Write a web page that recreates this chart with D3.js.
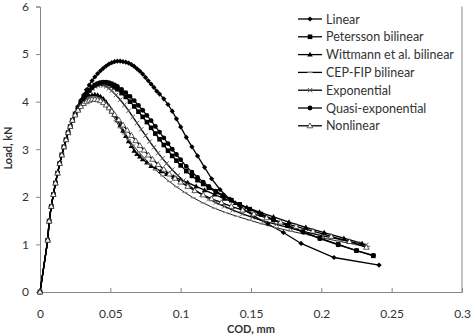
<!DOCTYPE html>
<html>
<head>
<meta charset="utf-8">
<script src="https://cdn.jsdelivr.net/npm/d3@7"></script>
<style>
  body { margin: 0; background: #fff; }
  svg text { font-family: Lato, "Open Sans", sans-serif; fill: #333; }
</style>
</head>
<body>
<div id="chart"></div>
<script>
// shared ascending branch
const riseX = [0, 0.0055, 0.0065, 0.008, 0.0095, 0.011, 0.0125, 0.014, 0.0155, 0.017, 0.0185, 0.02, 0.0215, 0.023];
const riseY = [0, 1.09, 1.49, 1.80, 2.05, 2.29, 2.50, 2.70, 2.88, 3.05, 3.20, 3.35, 3.48, 3.61];

const linearX = [0.025,0.027,0.029,0.031,0.033,0.035,0.037,0.039,0.041,0.043,0.045,0.047,0.049,0.051,0.053,0.055,0.057,0.059,0.061,0.063,0.065,0.067,0.069,0.071,0.073,0.075,0.077,0.079,0.081,0.083,0.085,0.088,0.091,0.094,0.097,0.1,0.104,0.108,0.112,0.117,0.122,0.128,0.135,0.143,0.152,0.162,0.173,0.1856,0.209,0.241];
const linearY = [3.76,3.9,4.03,4.14,4.25,4.35,4.44,4.52,4.59,4.65,4.7,4.75,4.79,4.82,4.84,4.85,4.85,4.84,4.83,4.81,4.78,4.74,4.69,4.64,4.58,4.51,4.44,4.37,4.3,4.22,4.16,4.06,3.94,3.8,3.64,3.47,3.25,3.05,2.86,2.62,2.38,2.15,1.95,1.77,1.6,1.43,1.25,1.02,0.725,0.565];

const peterssonX = [0.025,0.027,0.029,0.031,0.033,0.035,0.037,0.039,0.041,0.043,0.045,0.047,0.049,0.051,0.053,0.055,0.058,0.061,0.064,0.067,0.07,0.073,0.076,0.079,0.082,0.085,0.088,0.091,0.094,0.097,0.1,0.104,0.108,0.112,0.116,0.12,0.125,0.13,0.136,0.142,0.149,0.157,0.166,0.176,0.187,0.199,0.212,0.225,0.237];
const peterssonY = [3.74,3.86,3.97,4.07,4.15,4.23,4.29,4.34,4.37,4.39,4.4,4.39,4.37,4.34,4.3,4.26,4.18,4.1,4.0,3.9,3.79,3.68,3.57,3.45,3.33,3.21,3.09,2.97,2.86,2.76,2.66,2.54,2.44,2.35,2.27,2.19,2.1,2.02,1.93,1.84,1.74,1.64,1.52,1.4,1.27,1.13,1.0,0.87,0.76];

const wittmannX = [0.025,0.027,0.029,0.031,0.033,0.035,0.037,0.039,0.041,0.043,0.045,0.047,0.049,0.051,0.053,0.055,0.057,0.059,0.061,0.063,0.065,0.067,0.069,0.071,0.073,0.076,0.079,0.082,0.086,0.09,0.095,0.1,0.105,0.111,0.117,0.124,0.131,0.139,0.147,0.156,0.166,0.177,0.189,0.202,0.216,0.229];
const wittmannY = [3.73,3.84,3.94,4.02,4.08,4.12,4.14,4.15,4.14,4.11,4.06,3.99,3.91,3.82,3.72,3.61,3.5,3.39,3.28,3.17,3.07,2.97,2.9,2.85,2.79,2.72,2.65,2.6,2.54,2.48,2.42,2.36,2.3,2.22,2.14,2.05,1.96,1.87,1.78,1.68,1.58,1.47,1.36,1.25,1.13,1.02];

const cepX = [0.025,0.027,0.029,0.031,0.033,0.035,0.037,0.039,0.041,0.043,0.045,0.047,0.049,0.051,0.054,0.057,0.06,0.063,0.066,0.07,0.074,0.078,0.082,0.087,0.092,0.097,0.103,0.109,0.116,0.124,0.132,0.14,0.149,0.158,0.168,0.178,0.189,0.2,0.212,0.224,0.233];
const cepY = [3.73,3.84,3.93,4.0,4.05,4.08,4.1,4.1,4.08,4.05,4.0,3.93,3.85,3.76,3.6,3.45,3.32,3.2,3.09,2.95,2.82,2.69,2.57,2.44,2.32,2.21,2.09,1.98,1.87,1.76,1.67,1.59,1.51,1.43,1.35,1.28,1.21,1.14,1.07,1.0,0.96];

const expX = [0.025,0.027,0.029,0.031,0.033,0.035,0.037,0.039,0.041,0.043,0.045,0.047,0.049,0.051,0.054,0.057,0.06,0.063,0.066,0.069,0.072,0.075,0.078,0.081,0.084,0.087,0.09,0.094,0.098,0.102,0.106,0.11,0.115,0.12,0.125,0.131,0.137,0.144,0.151,0.159,0.168,0.178,0.189,0.201,0.214,0.226,0.232];
const expY = [3.74,3.86,3.97,4.07,4.15,4.22,4.28,4.32,4.34,4.35,4.34,4.32,4.28,4.23,4.14,4.04,3.93,3.81,3.68,3.55,3.42,3.29,3.16,3.04,2.92,2.81,2.7,2.57,2.45,2.34,2.24,2.15,2.05,1.96,1.88,1.8,1.72,1.64,1.57,1.49,1.42,1.34,1.26,1.18,1.1,1.02,0.99];

const quasiX = peterssonX;
const quasiY = [3.74,3.86,3.97,4.07,4.16,4.24,4.3,4.35,4.38,4.4,4.41,4.41,4.4,4.38,4.35,4.32,4.26,4.19,4.11,4.02,3.92,3.82,3.71,3.6,3.48,3.36,3.24,3.12,3.0,2.89,2.78,2.64,2.52,2.41,2.31,2.22,2.12,2.03,1.93,1.84,1.74,1.63,1.51,1.39,1.26,1.12,0.99,0.87,0.77];

const nonlinX = [0.025,0.027,0.029,0.031,0.033,0.035,0.037,0.039,0.041,0.043,0.045,0.047,0.049,0.051,0.053,0.056,0.059,0.062,0.065,0.068,0.071,0.074,0.077,0.08,0.084,0.088,0.092,0.096,0.1,0.105,0.11,0.116,0.122,0.129,0.136,0.144,0.152,0.161,0.171,0.182,0.194,0.207,0.22,0.232];
const nonlinY = [3.72,3.82,3.9,3.96,4.0,4.03,4.05,4.05,4.04,4.02,3.98,3.93,3.87,3.8,3.73,3.62,3.51,3.4,3.29,3.18,3.08,2.98,2.88,2.79,2.68,2.58,2.48,2.39,2.31,2.22,2.13,2.04,1.96,1.88,1.8,1.72,1.64,1.56,1.47,1.38,1.28,1.17,1.06,0.94];

const seriesNames = ["Linear", "Petersson bilinear", "Wittmann et al. bilinear", "CEP-FIP bilinear", "Exponential", "Quasi-exponential", "Nonlinear"];
const xTicks = [0, 0.05, 0.1, 0.15, 0.2, 0.25, 0.3];
const xTickLabels = ["0", "0.05", "0.1", "0.15", "0.2", "0.25", "0.3"];
const yTicks = [0, 1, 2, 3, 4, 5, 6];

const series = [
  { name: seriesNames[0], xs: linearX, ys: linearY, marker: "diamond" },
  { name: seriesNames[1], xs: peterssonX, ys: peterssonY, marker: "square" },
  { name: seriesNames[2], xs: wittmannX, ys: wittmannY, marker: "triangle" },
  { name: seriesNames[3], xs: cepX, ys: cepY, marker: "dash" },
  { name: seriesNames[4], xs: expX, ys: expY, marker: "cross" },
  { name: seriesNames[5], xs: quasiX, ys: quasiY, marker: "circle" },
  { name: seriesNames[6], xs: nonlinX, ys: nonlinY, marker: "opentri" }
].map(s => ({
  ...s,
  pts: riseX.map((x, i) => [x, riseY[i]]).concat(s.xs.map((x, i) => [x, s.ys[i]]))
}));

const W = 472, H = 335;
const svg = d3.select("#chart").append("svg").attr("width", W).attr("height", H);

const x = d3.scaleLinear().domain([0, 0.3]).range([40, 462]);
const y = d3.scaleLinear().domain([0, 6]).range([292, 6.5]);

// axes
svg.append("g")
  .attr("transform", `translate(0,${y(0)})`)
  .call(d3.axisBottom(x).tickValues(xTicks).tickSize(-4).tickPadding(17).tickFormat((d, i) => xTickLabels[i]))
  .call(g => g.select(".domain").attr("stroke", "#868686"))
  .call(g => g.selectAll(".tick line").attr("stroke", "#868686"))
  .call(g => g.selectAll("text").style("font-size", "12px"));

svg.append("g")
  .attr("transform", `translate(${x(0)},0)`)
  .call(d3.axisLeft(y).tickValues(yTicks).tickSize(4).tickPadding(7).tickFormat(d3.format("d")))
  .call(g => g.select(".domain").attr("stroke", "#868686"))
  .call(g => g.selectAll(".tick line").attr("stroke", "#868686"))
  .call(g => g.selectAll("text").style("font-size", "12px"));

// right border
svg.append("line").attr("x1", x(0.3)).attr("x2", x(0.3)).attr("y1", y(6)).attr("y2", y(0))
  .attr("stroke", "#868686");

svg.append("text").attr("x", 251).attr("y", 333).attr("text-anchor", "middle")
  .style("font-size", "11px").style("font-weight", "bold").text("COD, mm");
svg.append("text").attr("transform", "translate(12,148) rotate(-90)").attr("text-anchor", "middle")
  .style("font-size", "11px").style("font-weight", "bold").text("Load, kN");

const line = d3.line().x(d => x(d[0])).y(d => y(d[1]));

function drawMarker(g, type, cx, cy) {
  if (type === "diamond") {
    g.append("path").attr("d", `M${cx},${cy - 2.6}L${cx + 2.6},${cy}L${cx},${cy + 2.6}L${cx - 2.6},${cy}Z`).attr("fill", "#000");
  } else if (type === "square") {
    g.append("rect").attr("x", cx - 2.3).attr("y", cy - 2.3).attr("width", 4.6).attr("height", 4.6).attr("fill", "#000");
  } else if (type === "triangle") {
    g.append("path").attr("d", `M${cx},${cy - 2.8}L${cx + 2.8},${cy + 2}L${cx - 2.8},${cy + 2}Z`).attr("fill", "#000");
  } else if (type === "dash") {
    g.append("path").attr("d", `M${cx - 2.5},${cy}L${cx + 2.5},${cy}`).attr("stroke", "#888").attr("stroke-width", 1.2);
  } else if (type === "cross") {
    g.append("path").attr("d", `M${cx - 2.2},${cy - 2.2}L${cx + 2.2},${cy + 2.2}M${cx - 2.2},${cy + 2.2}L${cx + 2.2},${cy - 2.2}`)
      .attr("stroke", "#555").attr("stroke-width", 1);
  } else if (type === "circle") {
    g.append("circle").attr("cx", cx).attr("cy", cy).attr("r", 2.4).attr("fill", "#000");
  } else if (type === "opentri") {
    g.append("path").attr("d", `M${cx},${cy - 2.8}L${cx + 2.8},${cy + 2}L${cx - 2.8},${cy + 2}Z`)
      .attr("fill", "#fff").attr("stroke", "#333").attr("stroke-width", 0.8);
  }
}

const plot = svg.append("g");
series.forEach(s => {
  const g = plot.append("g");
  g.append("path").datum(s.pts).attr("d", line).attr("fill", "none")
    .attr("stroke", s.marker === "dash" ? "#222" : "#000").attr("stroke-width", s.marker === "dash" ? 1 : 1.3);
  s.pts.forEach(p => drawMarker(g, s.marker, x(p[0]), y(p[1])));
});

// legend
const lg = svg.append("g");
series.forEach((s, i) => {
  const ly = 19 + i * 17.8;
  lg.append("line").attr("x1", 298).attr("x2", 322).attr("y1", ly).attr("y2", ly)
    .attr("stroke", "#000").attr("stroke-width", 1.3);
  drawMarker(lg, s.marker, 310, ly);
  lg.append("text").attr("x", 326).attr("y", ly + 4.5).style("font-size", "12.5px").text(s.name);
});
</script>
</body>
</html>
